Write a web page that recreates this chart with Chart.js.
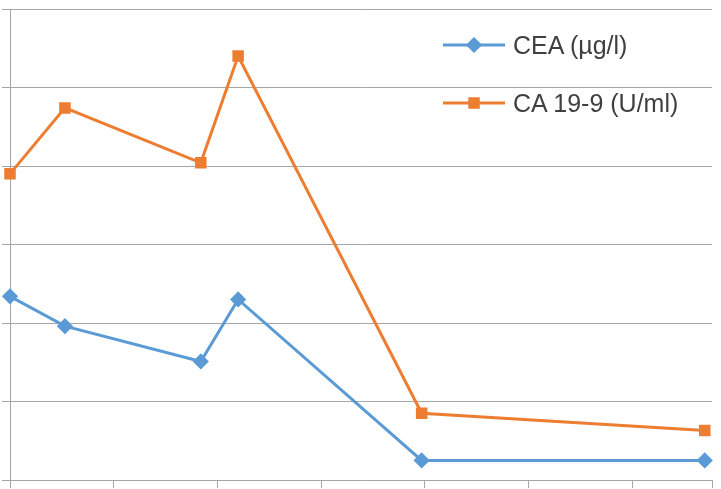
<!DOCTYPE html>
<html>
<head>
<meta charset="utf-8">
<script src="https://cdn.jsdelivr.net/npm/chart.js@4"></script>
<style>
  html, body { margin: 0; padding: 0; background: #fff; }
  .wrap { position: relative; width: 721px; height: 489px; overflow: hidden; }
  .legend { position: absolute; left: 443px; top: 16px; font-family: "Liberation Sans Narrow", "Liberation Sans", sans-serif; font-size: 25px; color: #404040; }
  .legend div { display: flex; align-items: center; height: 58px; }
  .legend canvas { margin-right: 8px; }
</style>
</head>
<body>
<div class="wrap">
  <canvas id="c" width="721" height="489"></canvas>
  <div class="legend">
    <div><canvas id="l1" width="62" height="20"></canvas>CEA (µg/l)</div>
    <div><canvas id="l2" width="62" height="20"></canvas>CA 19-9 (U/ml)</div>
  </div>
</div>
<script>
const xValues = [0, 0.53, 1.84, 2.2, 3.97, 6.7];
const ceaValues = [2.34, 1.96, 1.51, 2.3, 0.25, 0.25];
const ca199Values = [3.9, 4.74, 4.04, 5.4, 0.85, 0.63];
const blue = '#5B9BD5';
const orange = '#ED7D31';

const pts = vals => vals.map((v, i) => ({ x: xValues[i], y: v }));

new Chart(document.getElementById('c'), {
    type: 'scatter',
    data: {
        datasets: [
            { label: 'CEA (µg/l)', data: pts(ceaValues), showLine: true, borderColor: blue, backgroundColor: blue,
              borderWidth: 3, pointStyle: 'rectRot', pointRadius: 6, clip: false },
            { label: 'CA 19-9 (U/ml)', data: pts(ca199Values), showLine: true, borderColor: orange, backgroundColor: orange,
              borderWidth: 3, pointStyle: 'rect', pointRadius: 6, clip: false },
        ],
    },
    options: {
        responsive: false,
        animation: false,
        layout: { padding: { left: 2, right: -9, top: -8, bottom: 0 } },
        plugins: { legend: { display: false }, tooltip: { enabled: false } },
        scales: {
            x: {
                type: 'linear', min: 0, max: 6.77,
                ticks: { stepSize: 1, display: false },
                grid: { drawOnChartArea: false, drawTicks: true, tickLength: 8, color: '#a6a6a6' },
                border: { color: '#a6a6a6' },
            },
            y: {
                min: 0, max: 6,
                ticks: { stepSize: 1, display: false },
                grid: { color: '#a6a6a6', tickLength: 8 },
                border: { color: '#a6a6a6' },
            },
        },
    },
});

function legendMark(id, color, style) {
    const ctx = document.getElementById(id).getContext('2d');
    ctx.strokeStyle = color; ctx.lineWidth = 3;
    ctx.beginPath(); ctx.moveTo(0, 10); ctx.lineTo(62, 10); ctx.stroke();
    Chart.helpers.drawPoint(ctx, { pointStyle: style, radius: 6, borderWidth: 1 }, 31, 10);
    ctx.fillStyle = color; ctx.fill();
}
legendMark('l1', blue, 'rectRot');
legendMark('l2', orange, 'rect');
</script>
</body>
</html>
